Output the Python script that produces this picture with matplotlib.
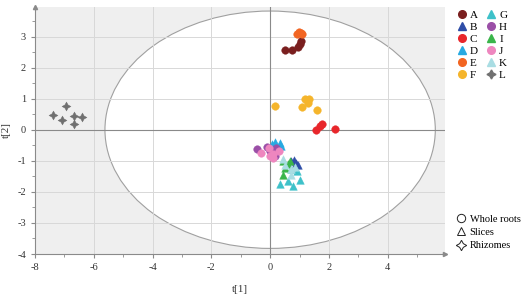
import numpy as np
import matplotlib.pyplot as plt
from matplotlib.patches import Ellipse
from matplotlib.lines import Line2D

plt.rcParams['font.family'] = ['Liberation Serif', 'DejaVu Serif']
plt.rcParams['axes.unicode_minus'] = False

# score values t[1], t[2] per group
A_x = [0.50, 0.76, 0.95, 1.00, 1.05]
A_y = [2.58, 2.58, 2.66, 2.75, 2.84]
B_x = [0.72, 0.80, 0.88, 0.95]
B_y = [-1.00, -0.97, -1.08, -1.15]
C_x = [1.56, 1.68, 1.77, 2.21]
C_y = [0.00, 0.11, 0.19, 0.02]
D_x = [0.05, 0.15, 0.33, 0.38, 0.20]
D_y = [-0.45, -0.40, -0.42, -0.52, -0.55]
E_x = [0.90, 0.98, 1.05, 1.10]
E_y = [3.08, 3.13, 3.12, 3.08]
F_x = [0.18, 1.17, 1.33, 1.28, 1.10, 1.58]
F_y = [0.76, 0.99, 0.99, 0.87, 0.73, 0.63]
G_x = [0.32, 0.62, 0.77, 1.00, 0.90, 0.70]
G_y = [-1.74, -1.65, -1.80, -1.63, -1.32, -1.25]
H_x = [-0.45, -0.10, 0.00, 0.20, 0.15]
H_y = [-0.62, -0.55, -0.70, -0.60, -0.85]
I_x = [0.45, 0.68, 0.50, 0.45, 0.60]
I_y = [-1.00, -1.00, -1.22, -1.45, -1.10]
J_x = [-0.30, -0.05, 0.10, 0.30, 0.10, 0.00]
J_y = [-0.75, -0.60, -0.78, -0.68, -0.90, -0.85]
K_x = [0.45, 0.50, 0.72, 0.70, 0.85]
K_y = [-0.93, -1.12, -1.28, -1.45, -1.20]
L_x = [-7.38, -6.93, -7.07, -6.67, -6.40, -6.69]
L_y = [0.46, 0.75, 0.30, 0.45, 0.41, 0.18]

groups = ['A', 'B', 'C', 'D', 'E', 'F', 'G', 'H', 'I', 'J', 'K', 'L']
xs = [A_x, B_x, C_x, D_x, E_x, F_x, G_x, H_x, I_x, J_x, K_x, L_x]
ys = [A_y, B_y, C_y, D_y, E_y, F_y, G_y, H_y, I_y, J_y, K_y, L_y]
colors = ['#7a1f1f', '#2e4da7', '#e8262b', '#27a9e1', '#f26522', '#f5b52c',
          '#3ec1c9', '#9b4fa7', '#3ab54a', '#ee86bf', '#a9dde3', '#707070']
star = (4, 1, 0)
markers = ['o', '^', 'o', '^', 'o', 'o', '^', 'o', '^', 'o', '^', star]

fig = plt.figure(figsize=(5.26, 2.95), dpi=100)
ax = fig.add_axes([35/526, 1-254/295, 410/526, 247/295])
ax.set_facecolor('#efefef')
ax.set_xlim(-8, 5.95)
ax.set_ylim(-4, 3.95)

ell = Ellipse((0, 0), 2*5.62, 2*3.82, facecolor='white', edgecolor='#a0a0a0',
              linewidth=0.8, zorder=0.5)
ax.add_patch(ell)

ax.set_xticks([-8, -6, -4, -2, 0, 2, 4])
ax.set_yticks([-4, -3, -2, -1, 0, 1, 2, 3])
ax.set_xticks(np.arange(-8, 6, 1), minor=True)
ax.set_yticks(np.arange(-4, 4, 0.5), minor=True)
ax.grid(True, which='major', color='#d8d8d8', linewidth=0.7, zorder=0.6)
ax.set_axisbelow(True)
ax.axhline(0, color='#8a8a8a', linewidth=0.8, zorder=0.7)
ax.axvline(0, color='#8a8a8a', linewidth=0.8, zorder=0.7)

for s in ['top', 'right']:
    ax.spines[s].set_visible(False)
for s in ['left', 'bottom']:
    ax.spines[s].set_color('#8a8a8a')
    ax.spines[s].set_linewidth(0.8)
ax.tick_params(which='both', direction='out', color='#8a8a8a', labelsize=7.5,
               labelcolor='#333333')
ax.tick_params(which='major', length=3)
ax.tick_params(which='minor', length=2)
ax.plot(1, 0, '>', color='#8a8a8a', ms=3, transform=ax.transAxes, clip_on=False)
ax.plot(0, 1, '^', color='#8a8a8a', ms=3, transform=ax.transAxes, clip_on=False)

for g, x, y, c, m in zip(groups, xs, ys, colors, markers):
    size = 42 if g == 'L' else 30
    ax.scatter(x, y, s=size, c=c, marker=m, edgecolors=c, linewidths=0.3,
               zorder=3)

ax.set_xlabel('t[1]', fontsize=8, color='#333333')
ax.xaxis.set_label_coords(205/410, -31/247)
ax.set_ylabel('t[2]', fontsize=8, color='#333333')
ax.yaxis.set_label_coords(-24/410, 0.5)

handles = [Line2D([], [], linestyle='none', marker=m, color=c,
                  markersize=6.5 if m == star else 5.5)
           for c, m in zip(colors, markers)]
fig.legend(handles, groups, ncol=2, loc='upper left',
           bbox_to_anchor=(451/526, 1-5/295), frameon=False, fontsize=8,
           handlelength=0.9, handletextpad=0.3, columnspacing=0.7,
           labelspacing=0.2, borderpad=0)

shape_labels = ['Whole roots', 'Slices', 'Rhizomes']
shape_handles = [Line2D([], [], linestyle='none', marker=m, markerfacecolor='none',
                        markeredgecolor='#222222', markeredgewidth=0.7,
                        markersize=ms)
                 for m, ms in zip(['o', '^', star], [6, 5.5, 7.5])]
fig.legend(shape_handles, shape_labels, loc='upper left',
           bbox_to_anchor=(451/526, 1-209/295), frameon=False, fontsize=7.5,
           handlelength=0.9, handletextpad=0.4, labelspacing=0.4, borderpad=0)

plt.savefig('out.png', dpi=100)
